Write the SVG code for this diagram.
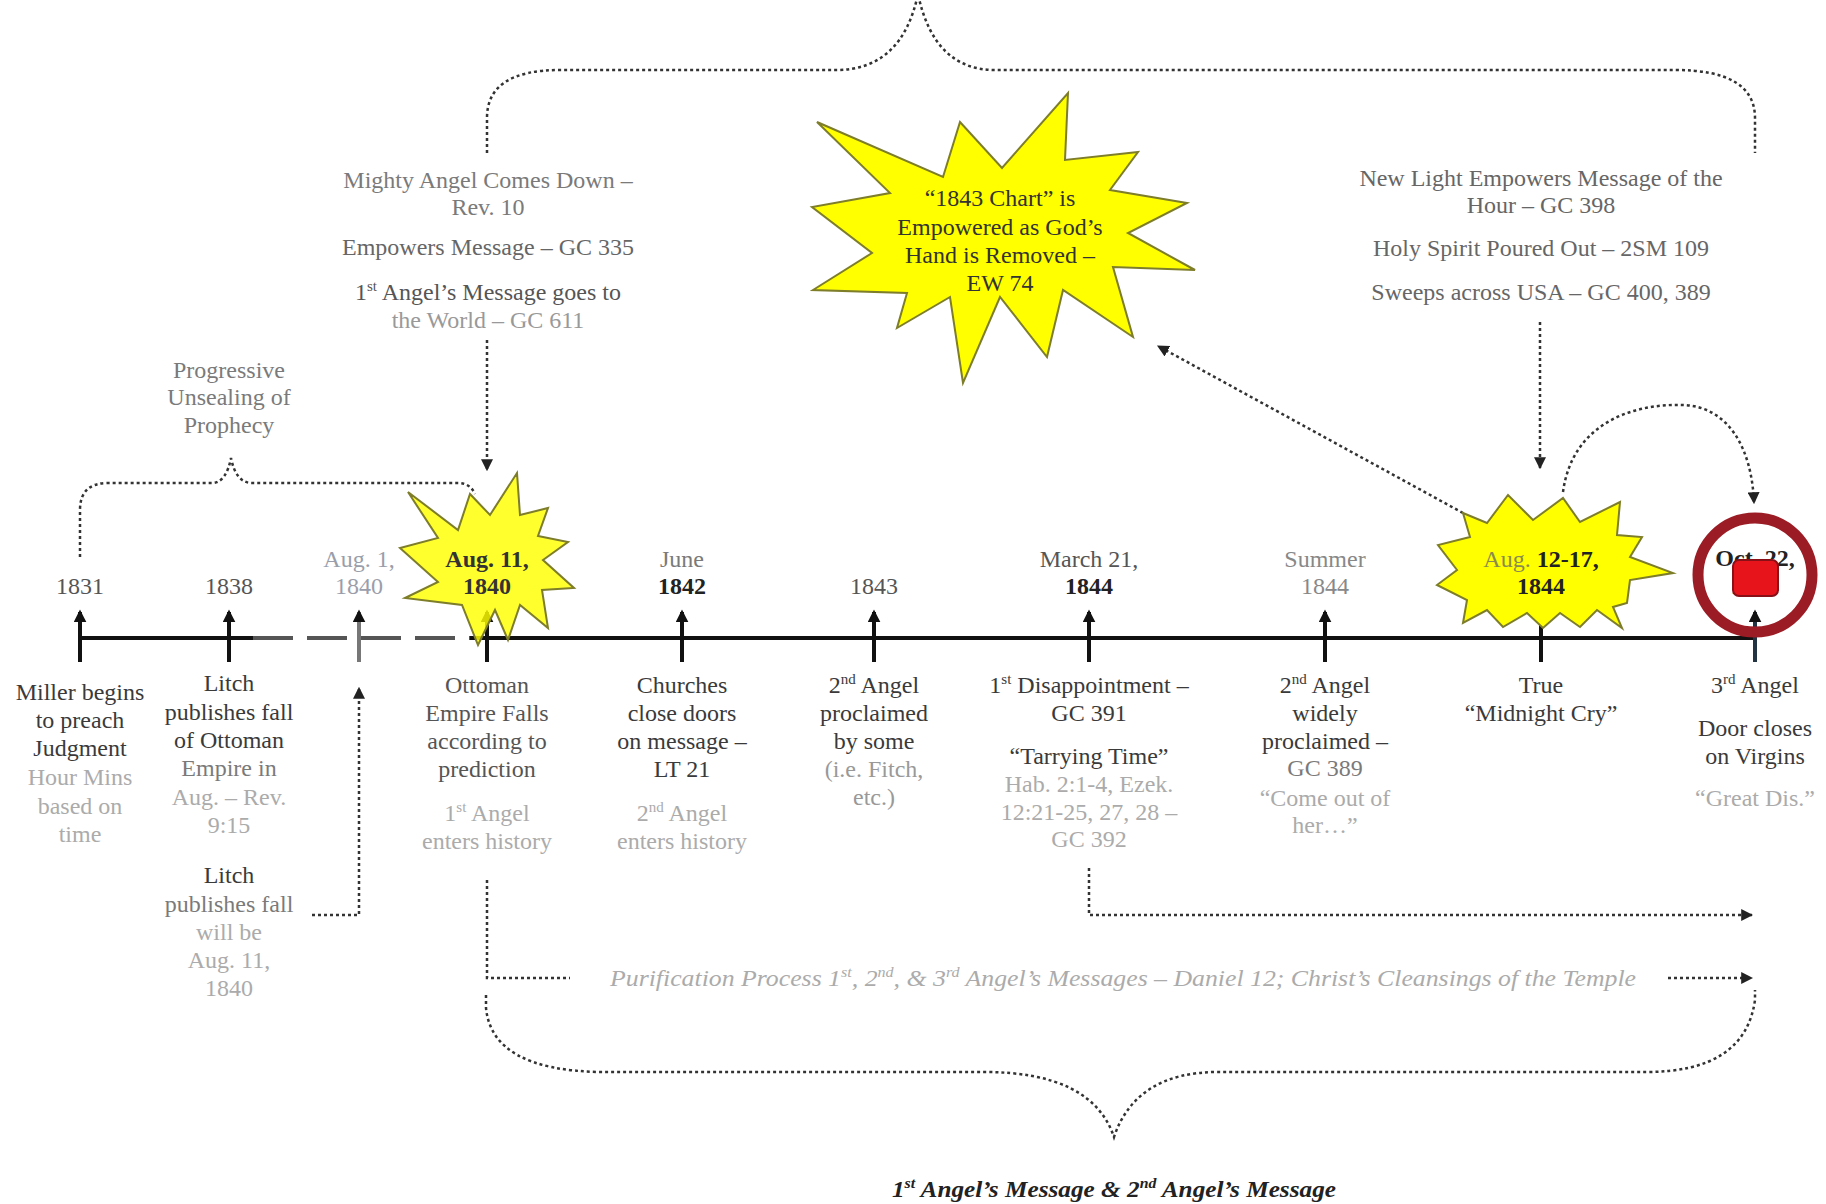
<svg xmlns="http://www.w3.org/2000/svg" width="1826" height="1204" viewBox="0 0 1826 1204">
<style>
.t{font-family:"Liberation Serif","Times New Roman",serif;font-size:24px;text-anchor:middle}
.d{fill:#3a3a3a}.m{fill:#7a7a7a}.l{fill:#ababab}.b{font-weight:bold}.k{fill:#222}
.dot{fill:none;stroke:#333;stroke-width:2.5;stroke-dasharray:3 3}
.tick{stroke:#111;stroke-width:4}
.star{fill:#ffff00;stroke:#7d7d2a;stroke-width:2;stroke-linejoin:miter}
.sup{font-size:15px}
</style>
<defs>
<marker id="ah" viewBox="0 0 10 10" refX="9" refY="5" markerWidth="12" markerHeight="12" markerUnits="userSpaceOnUse" orient="auto"><path d="M0,0 L10,5 L0,10 z" fill="#222"/></marker>
<marker id="th" viewBox="0 0 10 10" refX="8" refY="5" markerWidth="13" markerHeight="13" markerUnits="userSpaceOnUse" orient="auto"><path d="M0,0 L10,5 L0,10 z" fill="#111"/></marker>
</defs>
<rect width="1826" height="1204" fill="#fff"/>

<g id="connectors">
<path class="dot" d="M 487 153 L 487 118 Q 487 70 560 70 L 836 70 Q 902 70 918 -6 Q 934 70 995 70 L 1675 70 Q 1755 70 1755 118 L 1755 153"/>
<path class="dot" d="M 80 557 L 80 510 Q 80 483 108 483 L 212 483 Q 226 483 231 458 Q 236 483 252 483 L 458 483 Q 470 483 475 494"/>
<path class="dot" d="M 486 995 L 486 1008 Q 492 1070 600 1072 L 984 1072 Q 1092 1072 1114 1137 Q 1136 1072 1218 1072 L 1646 1072 Q 1745 1072 1755 1000 L 1755 990"/>
<path class="dot" d="M 487 880 L 487 978 L 570 978"/>
<path class="dot" d="M 1668 978 L 1752 978" marker-end="url(#ah)"/>
<path class="dot" d="M 1089 868 L 1089 915 L 1752 915" marker-end="url(#ah)"/>
<path class="dot" d="M 312 915 L 359 915 L 359 688" marker-end="url(#ah)"/>
<path class="dot" d="M 487 340 L 487 470" marker-end="url(#ah)"/>
<path class="dot" d="M 1540 322 L 1540 468" marker-end="url(#ah)"/>
<path class="dot" d="M 1463 513 L 1158 346" marker-end="url(#ah)"/>
<path class="dot" d="M 1563 492 C 1572 425 1630 403 1685 405 C 1730 408 1752 450 1754 503" marker-end="url(#ah)"/>
</g>

<g id="timeline">
<line x1="79" y1="638" x2="253" y2="638" stroke="#111" stroke-width="4"/>
<line x1="253" y1="638" x2="470" y2="638" stroke="#555" stroke-width="4" stroke-dasharray="40 14"/>
<line x1="470" y1="638" x2="1755" y2="638" stroke="#111" stroke-width="4"/>
<line class="tick" x1="80" y1="662" x2="80" y2="612" marker-end="url(#th)"/>
<line class="tick" x1="229" y1="662" x2="229" y2="612" marker-end="url(#th)"/>
<line class="tick" x1="359" y1="662" x2="359" y2="612" marker-end="url(#th)" style="stroke:#777"/>
<line class="tick" x1="487" y1="662" x2="487" y2="612" marker-end="url(#th)"/>
<line class="tick" x1="682" y1="662" x2="682" y2="612" marker-end="url(#th)"/>
<line class="tick" x1="874" y1="662" x2="874" y2="612" marker-end="url(#th)"/>
<line class="tick" x1="1089" y1="662" x2="1089" y2="612" marker-end="url(#th)"/>
<line class="tick" x1="1325" y1="662" x2="1325" y2="612" marker-end="url(#th)"/>
<line class="tick" x1="1541" y1="662" x2="1541" y2="612"/>
<line class="tick" x1="1755" y1="662" x2="1755" y2="612" marker-end="url(#th)" style="stroke:#234"/>
</g>

<g id="progressive">
<text class="t m" x="229" y="378">Progressive</text>
<text class="t m" x="229" y="405">Unsealing of</text>
<text class="t m" x="229" y="433">Prophecy</text>
</g>

<g id="mighty-angel">
<text class="t m" x="488" y="188">Mighty Angel Comes Down –</text>
<text class="t m" x="488" y="215">Rev. 10</text>
<text class="t d" x="488" y="255" style="fill:#666">Empowers Message – GC 335</text>
<text class="t d" x="488" y="300" style="fill:#555">1<tspan class="sup" dy="-9">st</tspan><tspan dy="9"> Angel’s Message goes to</tspan></text>
<text class="t l" x="488" y="328" style="fill:#999">the World – GC 611</text>
</g>

<g id="chart-1843">
<polygon class="star" points="817,122 943,177 960,122 1002,168 1068,93 1065,160 1138,152 1110,190 1187,203 1128,233 1195,270 1113,267 1133,337 1063,290 1047,357 1000,297 963,383 950,297 897,328 907,293 813,290 872,253 812,207 890,193"/>
<text class="t" x="1000" y="206" fill="#333">“1843 Chart” is</text>
<text class="t" x="1000" y="235" fill="#333">Empowered as God’s</text>
<text class="t" x="1000" y="263" fill="#333">Hand is Removed –</text>
<text class="t" x="1000" y="291" fill="#333">EW 74</text>
</g>

<g id="new-light">
<text class="t m" x="1541" y="186" style="fill:#666">New Light Empowers Message of the</text>
<text class="t m" x="1541" y="213" style="fill:#666">Hour – GC 398</text>
<text class="t m" x="1541" y="256" style="fill:#666">Holy Spirit Poured Out – 2SM 109</text>
<text class="t m" x="1541" y="300" style="fill:#666">Sweeps across USA – GC 400, 389</text>
</g>

<g id="n1831">
<text class="t d" x="80" y="594" style="fill:#555">1831</text>
<text class="t d" x="80" y="700">Miller begins</text>
<text class="t d" x="80" y="728">to preach</text>
<text class="t d" x="80" y="756">Judgment</text>
<text class="t l" x="80" y="785">Hour Mins</text>
<text class="t l" x="80" y="814">based on</text>
<text class="t l" x="80" y="842">time</text>
</g>

<g id="n1838">
<text class="t d" x="229" y="594" style="fill:#555">1838</text>
<text class="t d" x="229" y="691">Litch</text>
<text class="t d" x="229" y="720">publishes fall</text>
<text class="t d" x="229" y="748">of Ottoman</text>
<text class="t m" x="229" y="776">Empire in</text>
<text class="t l" x="229" y="805">Aug. – Rev.</text>
<text class="t l" x="229" y="833">9:15</text>
<text class="t d" x="229" y="883">Litch</text>
<text class="t m" x="229" y="912">publishes fall</text>
<text class="t l" x="229" y="940">will be</text>
<text class="t l" x="229" y="968">Aug. 11,</text>
<text class="t l" x="229" y="996">1840</text>
</g>

<g id="n1840a">
<text class="t l" x="359" y="567" style="fill:#9a9eaa">Aug. 1,</text>
<text class="t l" x="359" y="594" style="fill:#9a9eaa">1840</text>
</g>

<g id="n1840b">
<polygon class="star" style="fill-opacity:0.82" points="408,492 458,530 470,494 490,515 517,473 520,515 548,508 538,536 568,542 543,560 574,588 542,590 548,628 520,605 508,640 495,610 478,645 462,605 405,598 438,582 400,548 438,538"/>
<text class="t b" x="487" y="567" fill="#333">Aug. 11,</text>
<text class="t b" x="487" y="594" fill="#333">1840</text>
<text class="t d" x="487" y="693" style="fill:#555">Ottoman</text>
<text class="t d" x="487" y="721" style="fill:#555">Empire Falls</text>
<text class="t d" x="487" y="749" style="fill:#555">according to</text>
<text class="t d" x="487" y="777" style="fill:#555">prediction</text>
<text class="t l" x="487" y="821">1<tspan class="sup" dy="-9">st</tspan><tspan dy="9"> Angel</tspan></text>
<text class="t l" x="487" y="849">enters history</text>
</g>

<g id="n1842">
<text class="t m" x="682" y="567">June</text>
<text class="t b k" x="682" y="594">1842</text>
<text class="t d" x="682" y="693">Churches</text>
<text class="t d" x="682" y="721">close doors</text>
<text class="t d" x="682" y="749">on message –</text>
<text class="t d" x="682" y="777">LT 21</text>
<text class="t l" x="682" y="821">2<tspan class="sup" dy="-9">nd</tspan><tspan dy="9"> Angel</tspan></text>
<text class="t l" x="682" y="849">enters history</text>
</g>

<g id="n1843">
<text class="t d" x="874" y="594" style="fill:#555">1843</text>
<text class="t d" x="874" y="693">2<tspan class="sup" dy="-9">nd</tspan><tspan dy="9"> Angel</tspan></text>
<text class="t d" x="874" y="721">proclaimed</text>
<text class="t d" x="874" y="749">by some</text>
<text class="t m" x="874" y="777" style="fill:#999">(i.e. Fitch,</text>
<text class="t m" x="874" y="805" style="fill:#999">etc.)</text>
</g>

<g id="n1844a">
<text class="t d" x="1089" y="567" style="fill:#555">March 21,</text>
<text class="t b k" x="1089" y="594">1844</text>
<text class="t d" x="1089" y="693">1<tspan class="sup" dy="-9">st</tspan><tspan dy="9"> Disappointment –</tspan></text>
<text class="t d" x="1089" y="721">GC 391</text>
<text class="t d" x="1089" y="764">“Tarrying Time”</text>
<text class="t l" x="1089" y="792">Hab. 2:1-4, Ezek.</text>
<text class="t l" x="1089" y="820">12:21-25, 27, 28 –</text>
<text class="t l" x="1089" y="847">GC 392</text>
</g>

<g id="n1844b">
<text class="t m" x="1325" y="567" style="fill:#888">Summer</text>
<text class="t m" x="1325" y="594" style="fill:#888">1844</text>
<text class="t d" x="1325" y="693">2<tspan class="sup" dy="-9">nd</tspan><tspan dy="9"> Angel</tspan></text>
<text class="t d" x="1325" y="721">widely</text>
<text class="t d" x="1325" y="749">proclaimed –</text>
<text class="t m" x="1325" y="776">GC 389</text>
<text class="t l" x="1325" y="806">“Come out of</text>
<text class="t l" x="1325" y="833">her…”</text>
</g>

<g id="n1844c">
<polygon class="star" points="1463,513 1487,523 1508,495 1533,520 1563,498 1580,522 1620,502 1617,535 1642,537 1630,557 1673,573 1630,580 1627,603 1613,607 1622,628 1597,610 1580,627 1560,613 1543,628 1527,613 1503,627 1487,610 1463,623 1467,600 1437,585 1457,570 1438,545 1470,537"/>
<text class="t" x="1541" y="567"><tspan fill="#8a8a50">Aug. </tspan><tspan class="b" fill="#222">12-17,</tspan></text>
<text class="t b k" x="1541" y="594">1844</text>
<text class="t d" x="1541" y="693">True</text>
<text class="t d" x="1541" y="721">“Midnight Cry”</text>
</g>

<g id="n1844d">
<circle cx="1755" cy="575" r="57" fill="none" stroke="#9b1c24" stroke-width="11"/>
<text class="t b" x="1755" y="566" fill="#222">Oct. 22,</text>
<text class="t b" x="1755" y="594" fill="#222">1844</text>
<rect x="1733" y="560" width="45" height="36" rx="6" fill="#e8141c" stroke="#8a1018" stroke-width="2"/>
<text class="t d" x="1755" y="693">3<tspan class="sup" dy="-9">rd</tspan><tspan dy="9"> Angel</tspan></text>
<text class="t d" x="1755" y="736">Door closes</text>
<text class="t d" x="1755" y="764">on Virgins</text>
<text class="t l" x="1755" y="806">“Great Dis.”</text>
</g>

<g id="purification">
<text class="t l" x="1123" y="986" font-style="italic" textLength="1026" lengthAdjust="spacingAndGlyphs">Purification Process 1<tspan class="sup" dy="-9">st</tspan><tspan dy="9">, 2</tspan><tspan class="sup" dy="-9">nd</tspan><tspan dy="9">, &amp; 3</tspan><tspan class="sup" dy="-9">rd</tspan><tspan dy="9"> Angel’s Messages – Daniel 12; Christ’s Cleansings of the Temple</tspan></text>
</g>

<g id="messages">
<text class="t b k" x="1114" y="1197" font-style="italic" textLength="444" lengthAdjust="spacingAndGlyphs">1<tspan class="sup" dy="-9">st</tspan><tspan dy="9"> Angel’s Message &amp; 2</tspan><tspan class="sup" dy="-9">nd</tspan><tspan dy="9"> Angel’s Message</tspan></text>
</g>
</svg>
